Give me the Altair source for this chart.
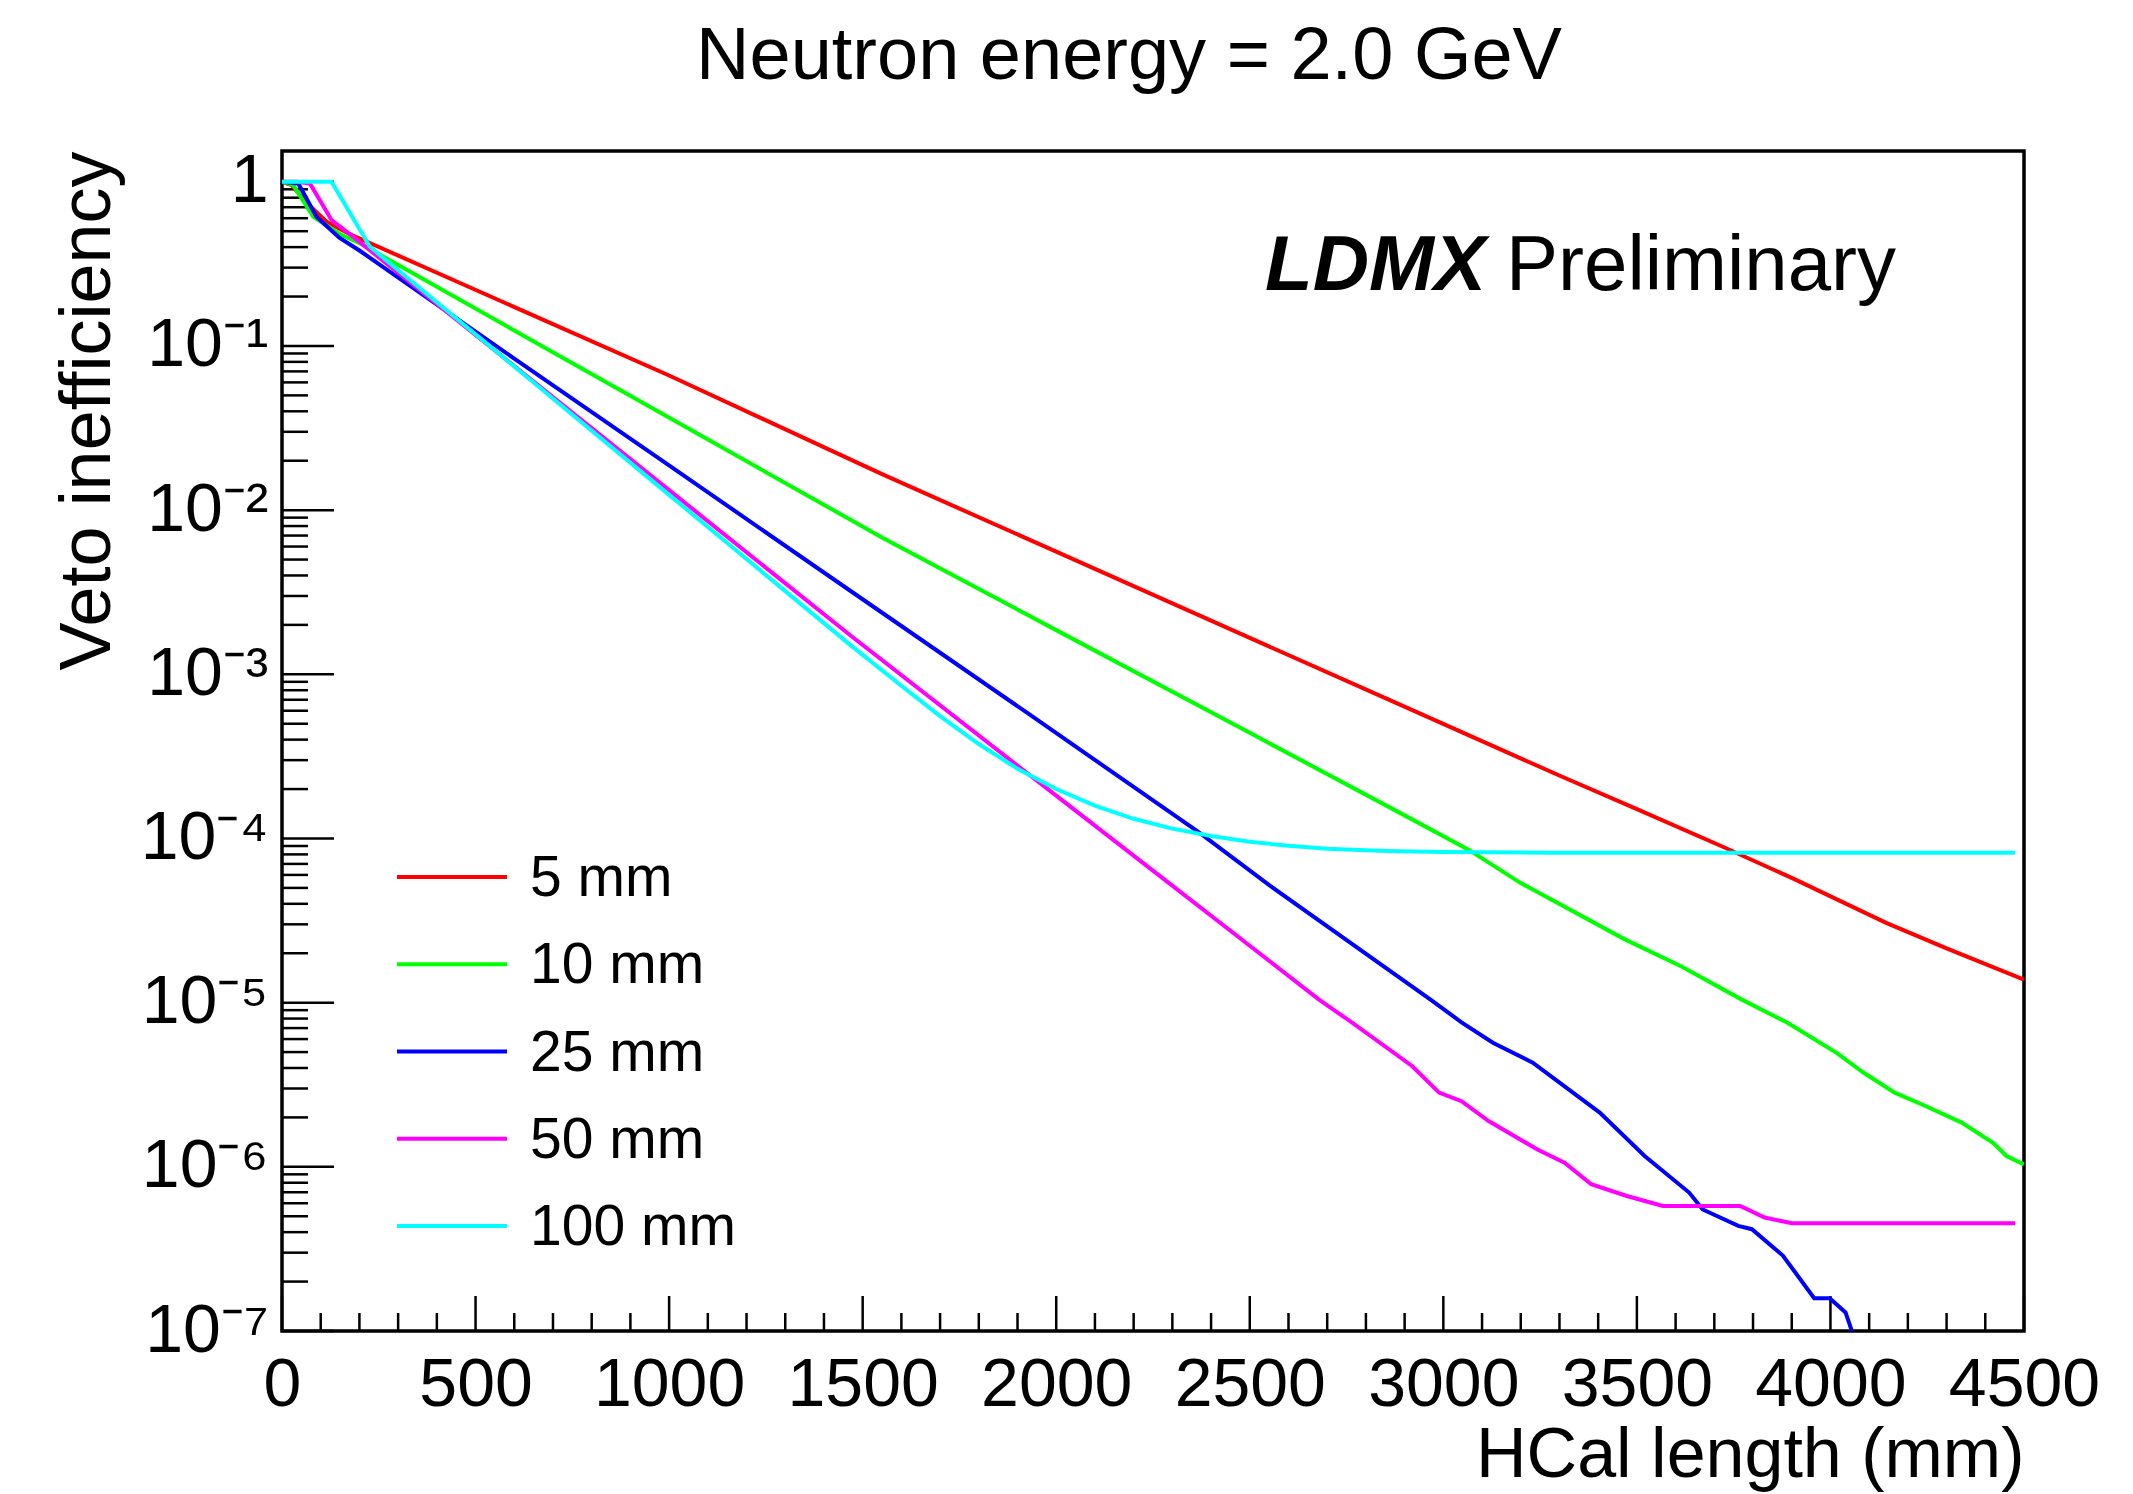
import json

import altair as alt
import pandas as pd

FONT = "Liberation Sans"

# Series: veto inefficiency vs. HCal length for several absorber thicknesses
series_labels = ["5 mm", "10 mm", "25 mm", "50 mm", "100 mm"]
series_colors = ["#ff0000", "#00ff00", "#0000ff", "#ff00ff", "#00ffff"]

len_5mm = [0, 25, 60, 115, 176, 425, 1000, 1550, 2000, 2500, 2888, 3304, 3500,
           3719, 3900, 4144, 4300, 4500]
ineff_5mm = [1.0, 0.955, 0.759, 0.571, 0.479, 0.263, 0.0661, 1.656e-2, 5.585e-3,
             1.667e-3, 6.53e-4, 2.393e-4, 1.51e-4, 8.97e-5, 5.75e-5, 3.06e-5,
             2.14e-5, 1.38e-5]

len_10mm = [0, 29, 81, 150, 201, 593, 1011, 1550, 2000, 2500, 2888, 3065, 3199,
            3469, 3614, 3770, 3889, 4016, 4086, 4166, 4247, 4339, 4420, 4455, 4500]
ineff_10mm = [1.0, 0.955, 0.612, 0.479, 0.422, 0.127, 0.0354, 6.81e-3, 1.858e-3,
              4.40e-4, 1.432e-4, 8.55e-5, 5.37e-5, 2.43e-5, 1.667e-5, 1.047e-5,
              7.55e-6, 4.95e-6, 3.74e-6, 2.83e-6, 2.34e-6, 1.86e-6, 1.40e-6,
              1.164e-6, 1.035e-6]

len_25mm = [0, 42, 89, 148, 201, 600, 1011, 1467, 1929, 2367, 2552, 2966, 3047,
            3128, 3231, 3404, 3520, 3635, 3670, 3762, 3797, 3877, 3958, 3998,
            4039, 4070]
ineff_25mm = [1.0, 0.977, 0.612, 0.456, 0.380, 0.0838, 0.01795, 3.24e-3, 5.74e-4,
              1.096e-4, 5.16e-5, 1.047e-5, 7.59e-6, 5.70e-6, 4.31e-6, 2.14e-6,
              1.164e-6, 6.97e-7, 5.50e-7, 4.37e-7, 4.17e-7, 2.88e-7, 1.585e-7,
              1.585e-7, 1.297e-7, 7.9e-8]

len_50mm = [0, 40, 72, 128, 184, 600, 1000, 1467, 1905, 2274, 2500, 2678, 2759,
            2920, 2989, 3047, 3117, 3243, 3313, 3382, 3474, 3567, 3767, 3830,
            3901, 4477]
ineff_50mm = [1.0, 1.0, 0.977, 0.585, 0.462, 0.0755, 0.01324, 1.734e-3, 2.72e-4,
              5.75e-5, 2.22e-5, 1.047e-5, 7.71e-6, 4.10e-6, 2.83e-6, 2.51e-6,
              1.90e-6, 1.276e-6, 1.059e-6, 7.83e-7, 6.64e-7, 5.78e-7, 5.78e-7,
              4.91e-7, 4.53e-7, 4.53e-7]

len_100mm = [0, 128, 227, 600, 1000, 1467, 1600, 1700, 1800, 1900, 2000, 2100,
             2200, 2300, 2400, 2500, 2600, 2700, 2850, 3000, 3276, 4477]
ineff_100mm = [1.0, 1.0, 0.402, 0.075, 0.01239, 1.517e-3, 8.51e-4, 5.56e-4,
               3.76e-4, 2.66e-4, 2.00e-4, 1.585e-4, 1.318e-4, 1.148e-4, 1.035e-4,
               9.55e-5, 9.02e-5, 8.67e-5, 8.39e-5, 8.26e-5, 8.2e-5, 8.2e-5]

all_lengths = [len_5mm, len_10mm, len_25mm, len_50mm, len_100mm]
all_ineff = [ineff_5mm, ineff_10mm, ineff_25mm, ineff_50mm, ineff_100mm]

# Axis ticks and labels
x_ticks_major = [0, 500, 1000, 1500, 2000, 2500, 3000, 3500, 4000, 4500]
x_ticks_minor = [v for v in range(100, 4500, 100) if v % 500]
y_ticks_major = [1, 1e-1, 1e-2, 1e-3, 1e-4, 1e-5, 1e-6, 1e-7]
y_tick_labels = ["1", "10⁻¹", "10⁻²", "10⁻³", "10⁻⁴", "10⁻⁵", "10⁻⁶", "10⁻⁷"]
y_ticks_minor = [m * 10.0 ** e for e in range(-7, 0) for m in range(2, 10)]

rows = []
for label, xs, ys in zip(series_labels, all_lengths, all_ineff):
    for i, (xv, yv) in enumerate(zip(xs, ys)):
        rows.append({"series": label, "length": xv, "ineff": yv, "idx": i})
df = pd.DataFrame(rows)

W, H = 1742, 1180
x_scale = alt.Scale(domain=[0, 4500], nice=False, zero=False)
y_scale = alt.Scale(type="log", domain=[1e-7, 1.54], nice=False)
color_scale = alt.Scale(domain=series_labels, range=series_colors)

y_lookup = json.dumps(y_tick_labels, ensure_ascii=False)
y_label_expr = f"{y_lookup}[round(-log(datum.value) / LN10)]"

x_axis = alt.Axis(
    orient="bottom", values=x_ticks_major, format="d", ticks=False, domain=False,
    grid=False, labelFont=FONT, labelFontSize=68, labelPadding=20,
    labelColor="black", labelOverlap=False, labelFlush=False, labelBound=False,
    title="HCal length (mm)", titleFont=FONT, titleFontSize=70,
    titleFontWeight="normal", titleColor="black", titleAnchor="end",
    titleAlign="right", titleBaseline="alphabetic", titleX=W, titleY=145,
)
y_axis = alt.Axis(
    orient="left", values=y_ticks_major, labelExpr=y_label_expr, ticks=False,
    domain=False, grid=False, labelFont=FONT, labelFontSize=68, labelPadding=14,
    labelColor="black", labelOverlap=False, labelFlush=False, labelBound=False,
    title="Veto inefficiency", titleFont=FONT, titleFontSize=72,
    titleFontWeight="normal", titleColor="black", titleAngle=-90,
    titleAnchor="end", titleAlign="right", titleBaseline="alphabetic",
    titleX=-173, titleY=0,
)

lines = alt.Chart(df).mark_line(strokeWidth=4, clip=True).encode(
    x=alt.X("length:Q", scale=x_scale, axis=x_axis),
    y=alt.Y("ineff:Q", scale=y_scale, axis=y_axis),
    color=alt.Color("series:N", scale=color_scale, legend=None),
    order=alt.Order("idx:Q"),
)

# Inward-pointing tick marks along the bottom and left edges
x_major = alt.Chart(pd.DataFrame({"length": x_ticks_major})).mark_rule(
    color="black", strokeWidth=2.5
).encode(x=alt.X("length:Q", scale=x_scale, axis=x_axis),
         y=alt.value(H), y2=alt.value(H - 35))
x_minor = alt.Chart(pd.DataFrame({"length": x_ticks_minor})).mark_rule(
    color="black", strokeWidth=2.5
).encode(x=alt.X("length:Q", scale=x_scale, axis=x_axis),
         y=alt.value(H), y2=alt.value(H - 18))
y_major = alt.Chart(pd.DataFrame({"ineff": y_ticks_major})).mark_rule(
    color="black", strokeWidth=2.5
).encode(y=alt.Y("ineff:Q", scale=y_scale, axis=y_axis),
         x=alt.value(0), x2=alt.value(52))
y_minor = alt.Chart(pd.DataFrame({"ineff": y_ticks_minor})).mark_rule(
    color="black", strokeWidth=2.5
).encode(y=alt.Y("ineff:Q", scale=y_scale, axis=y_axis),
         x=alt.value(0), x2=alt.value(26))

# Legend drawn inside the frame, one row per series
LEG_TOP, LEG_STEP = 726, 87.25
legend_layers = []
for i, label in enumerate(series_labels):
    row = alt.Chart(pd.DataFrame({"series": [label]}))
    legend_layers.append(
        row.mark_rule(strokeWidth=4).encode(
            x=alt.value(115), x2=alt.value(225), y=alt.value(LEG_TOP + LEG_STEP * i),
            color=alt.Color("series:N", scale=color_scale, legend=None),
        )
    )
    legend_layers.append(
        row.mark_text(align="left", baseline="middle", fontSize=57, font=FONT,
                      color="black").encode(
            x=alt.value(248), y=alt.value(LEG_TOP + LEG_STEP * i + 2), text="series:N"
        )
    )

# Experiment label
ldmx = alt.Chart(pd.DataFrame({"t": ["LDMX"]})).mark_text(
    align="left", baseline="alphabetic", fontSize=78, font=FONT,
    fontWeight="bold", fontStyle="italic", color="black",
).encode(x=alt.value(983), y=alt.value(139), text="t:N")
prelim = alt.Chart(pd.DataFrame({"t": ["Preliminary"]})).mark_text(
    align="left", baseline="alphabetic", fontSize=78, font=FONT, color="black",
).encode(x=alt.value(1224), y=alt.value(139), text="t:N")

# Plot title above the frame
title = alt.Chart(pd.DataFrame({"t": ["Neutron energy = 2.0 GeV"]})).mark_text(
    align="center", baseline="alphabetic", fontSize=74, font=FONT, color="black",
).encode(x=alt.value(847), y=alt.value(-72), text="t:N")

chart = alt.layer(
    x_minor, x_major, y_minor, y_major, lines,
    *legend_layers, ldmx, prelim, title,
).properties(
    width=W,
    height=H,
    autosize=alt.AutoSizeParams(type="none"),
    padding={"left": 282, "top": 151, "right": 109, "bottom": 163},
    background="white",
).configure_view(stroke="black", strokeWidth=3.5)

chart.save("out.html", embed_options={"renderer": "svg", "actions": False})
